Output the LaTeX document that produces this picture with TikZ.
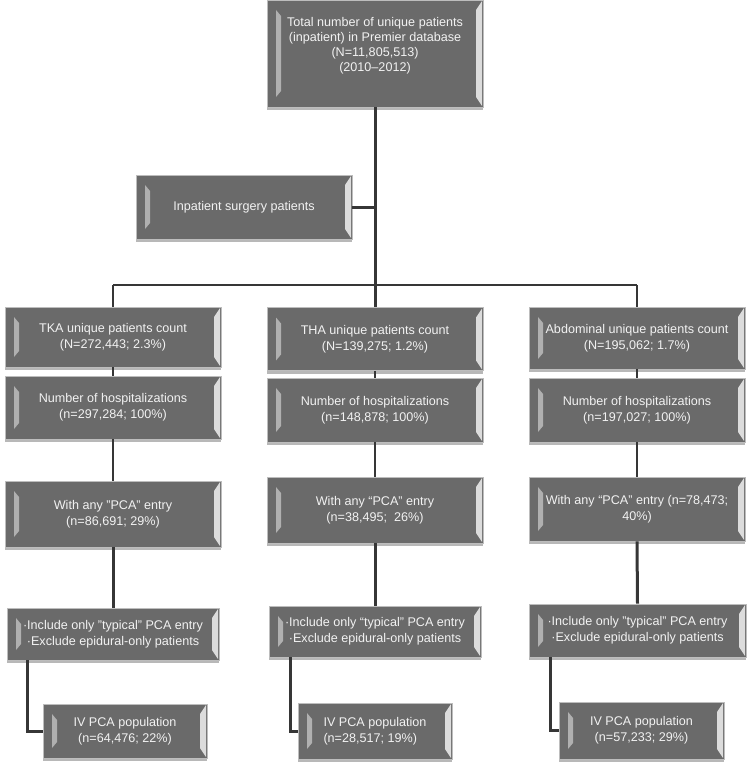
\documentclass[tikz,border=0pt]{standalone}
\usepackage{fontspec}
\setmainfont{Liberation Sans}
\usetikzlibrary{shadows,calc}
\definecolor{face}{HTML}{6A6A6A}
\definecolor{bord}{HTML}{BDBDBD}
\definecolor{bevl}{HTML}{B0B0B0}
\definecolor{bevr}{HTML}{DCDCDC}
\definecolor{txt}{HTML}{F2F2F2}
\definecolor{conn}{HTML}{363636}
\newcommand{\boxfont}{\fontsize{12.6}{16}\selectfont}
\begin{document}
\begin{tikzpicture}[x=1pt,y=-1pt,
  bx/.style={draw=bord, line width=0.7pt, fill=face, text=txt, align=center,
    font=\boxfont, inner sep=2pt,
    drop shadow={shadow xshift=0pt, shadow yshift=-3pt, opacity=0.28, fill=black},
    path picture={
      \fill[bevl] ([xshift=9pt,yshift=-10pt]path picture bounding box.north west)
        -- ([xshift=14pt,yshift=-16pt]path picture bounding box.north west)
        -- ([xshift=14pt,yshift=16pt]path picture bounding box.south west)
        -- ([xshift=9pt,yshift=10pt]path picture bounding box.south west) -- cycle;
      \fill[bevr] ([xshift=-1pt,yshift=-1pt]path picture bounding box.north east)
        -- ([xshift=-7pt,yshift=-10pt]path picture bounding box.north east)
        -- ([xshift=-7pt,yshift=10pt]path picture bounding box.south east)
        -- ([xshift=-1pt,yshift=1pt]path picture bounding box.south east) -- cycle;
    }},
  boxtext/.style={text=txt, align=center, font=\fontsize{12.6}{15}\selectfont, inner sep=0pt},
  cn/.style={draw=conn, line width=2.2pt},
  cnk/.style={draw=conn, line width=3pt},
  cnh/.style={draw=conn, line width=1.9pt}
]
\useasboundingbox (0,0) rectangle (750,768);

% top
\node[bx, minimum width=216pt, minimum height=107pt] (top) at (375,53.5) {};
\node[boxtext] (toptxt) at (375,46) {Total number of unique patients\\ (inpatient) in Premier database\\(N=11,805,513)\\(2010--2012)};
\node[bx, minimum width=216pt, minimum height=64pt] (inpat) at (244,207) {Inpatient surgery patients};

% TKA column
\node[bx, minimum width=216pt, minimum height=60pt] (tka1) at (113,337) {TKA unique patients count\\(N=272,443; 2.3\%)};
\node[bx, minimum width=216pt, minimum height=63pt] (tka2) at (113,407.5) {Number of hospitalizations\\(n=297,284; 100\%)};
\node[bx, minimum width=216pt, minimum height=66pt] (tka3) at (113,514) {With any "PCA" entry\\(n=86,691; 29\%)};
\node[bx, minimum width=212pt, minimum height=52pt] (tka4) at (113,634) {·Include only "typical" PCA entry\\·Exclude epidural-only patients};
\node[bx, minimum width=164pt, minimum height=54pt] (tka5) at (125,731) {IV PCA population\\(n=64,476; 22\%)};

% THA column
\node[bx, minimum width=216pt, minimum height=63pt] (tha1) at (375,339) {THA unique patients count\\(N=139,275; 1.2\%)};
\node[bx, minimum width=216pt, minimum height=64pt] (tha2) at (375,410) {Number of hospitalizations\\(n=148,878; 100\%)};
\node[bx, minimum width=216pt, minimum height=66pt] (tha3) at (375,510) {With any “PCA” entry\\(n=38,495;\ \ 26\%)};
\node[bx, minimum width=212pt, minimum height=51pt] (tha4) at (375,631.5) {·Include only “typical” PCA entry\\·Exclude epidural-only patients};
\node[bx, minimum width=154pt, minimum height=56pt, align=left] (tha5) at (375,731) {IV PCA population\\(n=28,517; 19\%)};

% Abdominal column
\node[bx, minimum width=216pt, minimum height=62pt] (abd1) at (637,338) {Abdominal unique patients count\\(N=195,062; 1.7\%)};
\node[bx, minimum width=216pt, minimum height=64pt] (abd2) at (637,410) {Number of hospitalizations\\(n=197,027; 100\%)};
\node[bx, minimum width=216pt, minimum height=64pt] (abd3) at (637,509) {With any “PCA” entry (n=78,473;\\40\%)};
\node[bx, minimum width=217pt, minimum height=53pt] (abd4) at (637.5,630.5) {·Include only "typical" PCA entry\\·Exclude epidural-only patients};
\node[bx, minimum width=165pt, minimum height=57pt] (abd5) at (641.5,730.5) {IV PCA population\\(n=57,233; 29\%)};

% connectors
\coordinate (hl) at (113,285);
\coordinate (hr) at (637,285);
\draw[cnk] (top.south) -- (tha1.north);
\draw[cnk] (inpat.east) -- (inpat.east -| top.south);
\draw[cnh] (hl) -- (hr);
\draw[cn] (hl) -- (tka1.north);
\draw[cn] (hr) -- (abd1.north);
\draw[cn] (tka1.south) -- (tka2.north);
\draw[cn] (tka2.south) -- (tka3.north);
\draw[cnk] (tka3.south) -- (tka4.north);
\draw[cn] (tha1.south) -- (tha2.north);
\draw[cn] (tha2.south) -- (tha3.north);
\draw[cnk] (tha3.south) -- (tha4.north);
\draw[cn] (abd1.south) -- (abd2.north);
\draw[cn] (abd2.south) -- (abd3.north);
\draw[cnk] (abd3.south) -- (abd4.north);
\draw[cnk] ([xshift=21pt]tka4.south west) |- (tka5.west);
\draw[cnk] ([xshift=22pt]tha4.south west) |- (tha5.west);
\draw[cnk] ([xshift=22pt]abd4.south west) |- (abd5.west);
\end{tikzpicture}
\end{document}
